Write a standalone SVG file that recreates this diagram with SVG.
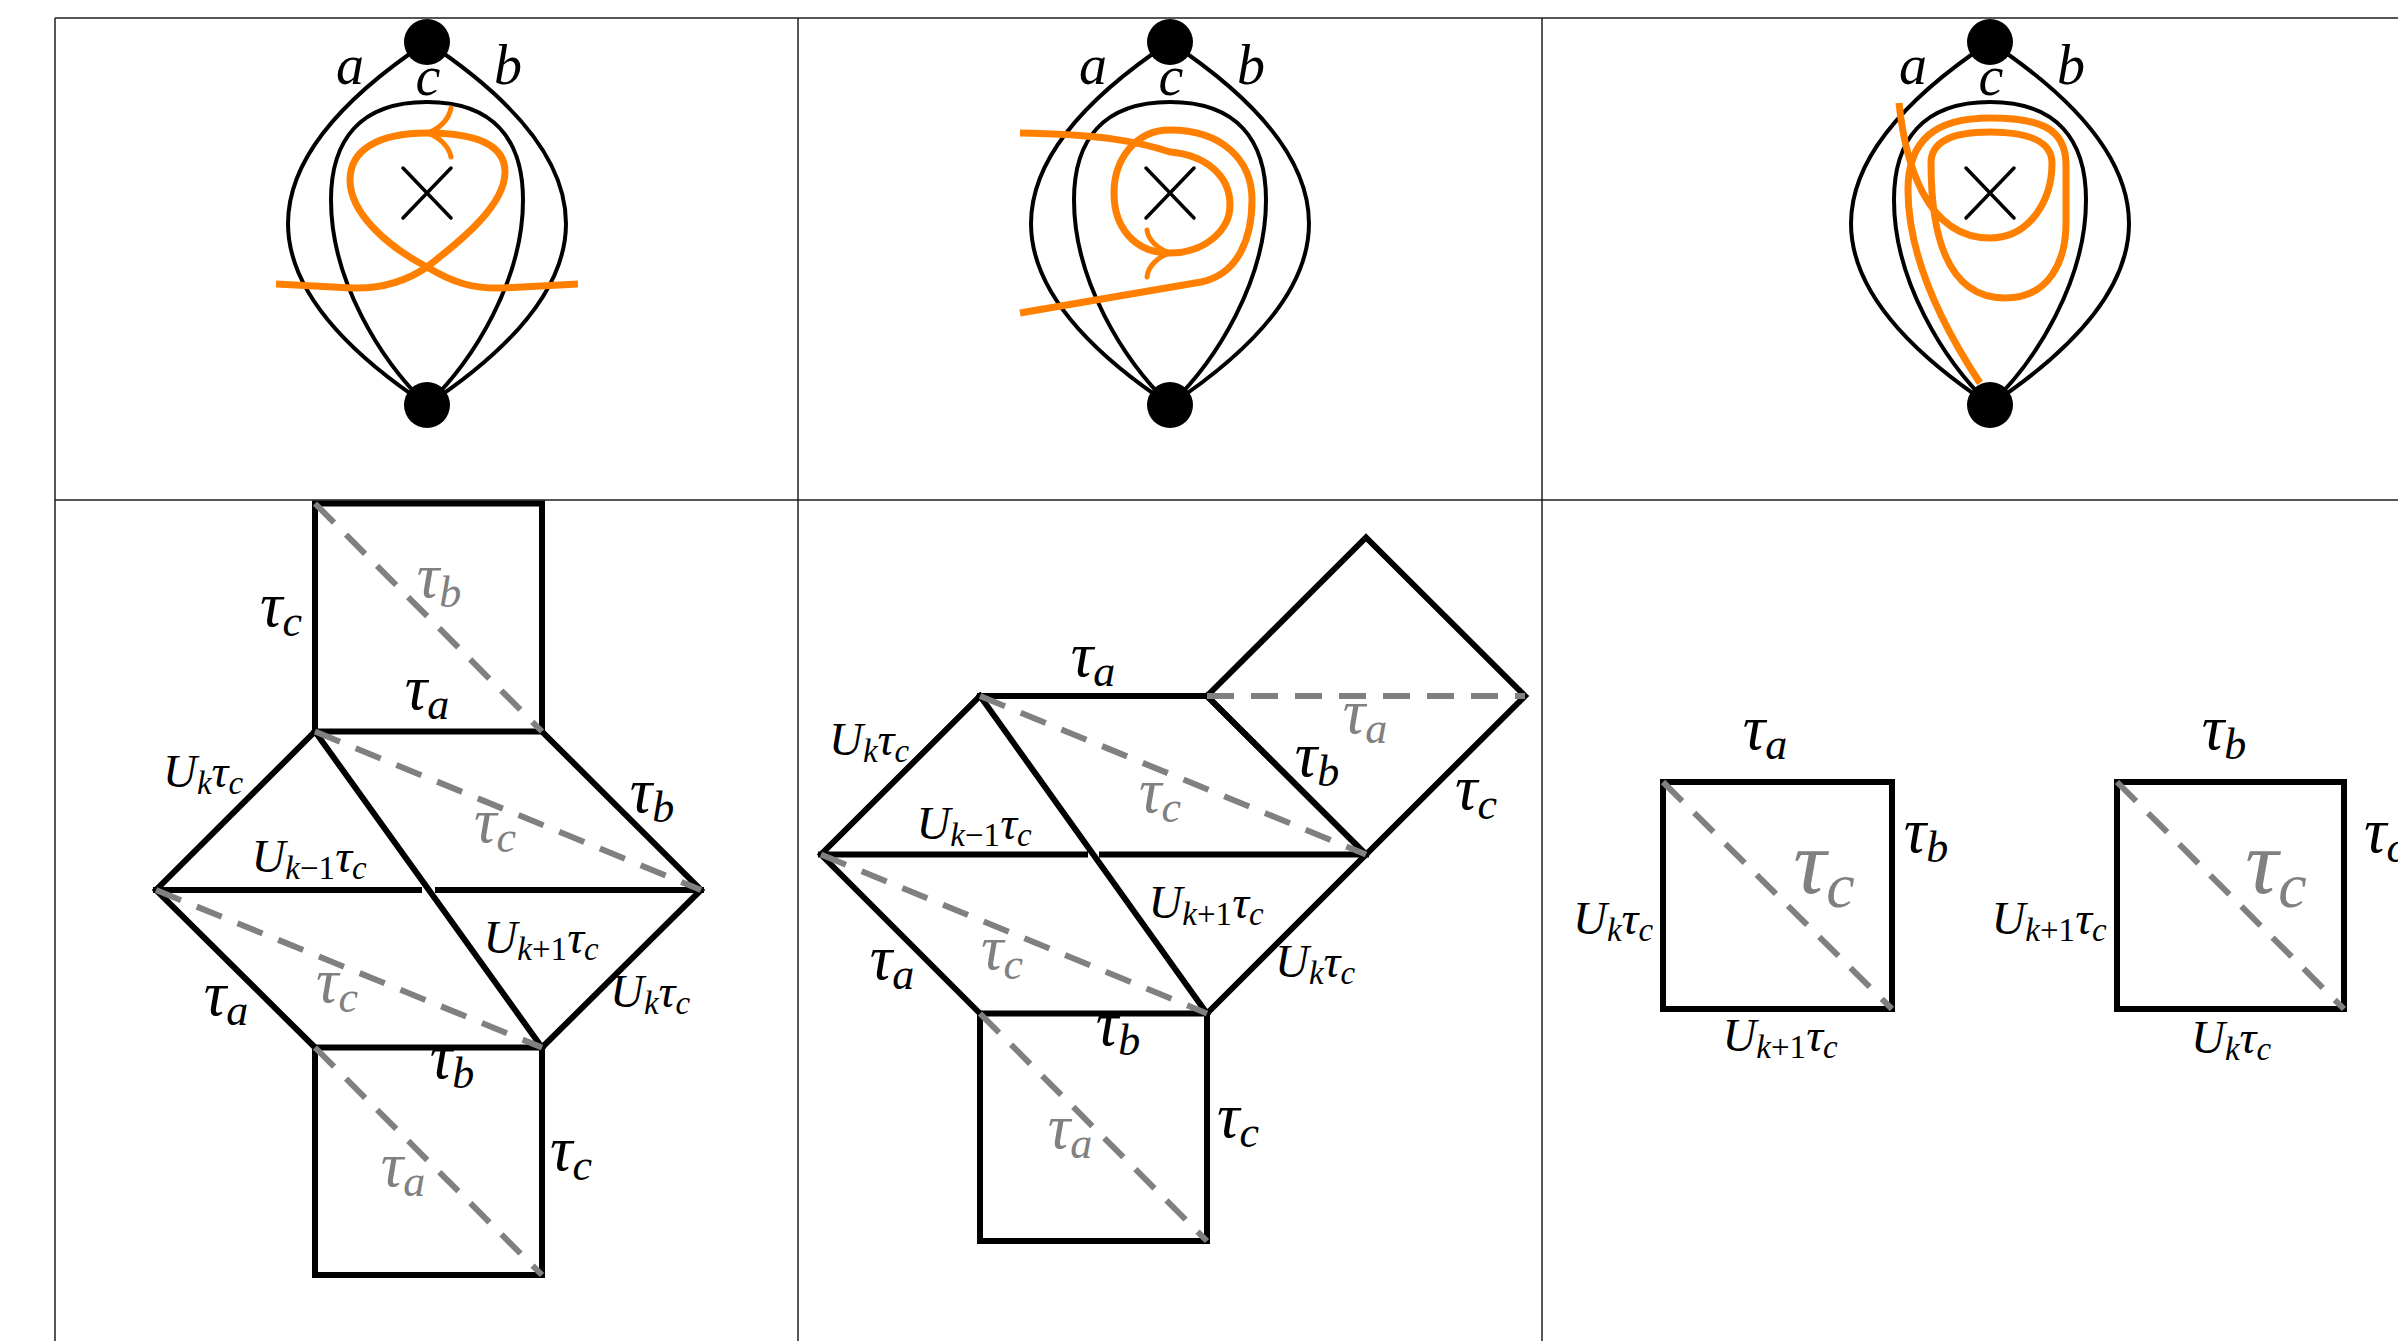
<svg xmlns="http://www.w3.org/2000/svg" width="2398" height="1341" viewBox="0 0 2398 1341">
<style>
.grid{fill:none;stroke:#1e1e1e;stroke-width:1.5}
.crv{fill:none;stroke:#000;stroke-width:4}
.xm{fill:none;stroke:#000;stroke-width:3.5;stroke-linecap:round}
.dot{fill:#000}
.orn{fill:none;stroke:#ff8000;stroke-width:7}
.arr{fill:none;stroke:#ff8000;stroke-width:5;stroke-linecap:round}
.edge{fill:none;stroke:#000;stroke-width:6;stroke-linejoin:miter;stroke-linecap:square}
.dash{fill:none;stroke:#808080;stroke-width:6;stroke-dasharray:27 17}
text{font-family:"Liberation Serif","Times New Roman",serif;font-style:italic;fill:#000;text-anchor:middle}
.lbl{font-size:56px}
.big{font-size:63px}
.sb{font-size:44px}
.sm{font-size:47px}
.ss{font-size:33px}
.huge{font-size:92px}
.hs{font-size:64px}
.rm{font-style:normal}
.gray{fill:#808080}
</style>

<g id="grid">
<line class="grid" x1="55" y1="18" x2="2398" y2="18"/>
<line class="grid" x1="55" y1="500" x2="2398" y2="500"/>
<line class="grid" x1="55" y1="18" x2="55" y2="1341"/>
<line class="grid" x1="798" y1="18" x2="798" y2="1341"/>
<line class="grid" x1="1542" y1="18" x2="1542" y2="1341"/>
</g>

<!-- Top row -->
<g id="top1">
<g id="lens1">
<path class="crv" d="M427,42 C241.7,165 241.7,282 427,405"/>
<path class="crv" d="M427,42 C612.3,165 612.3,282 427,405"/>
<path class="crv" d="M427,405 C380,360 331,280 331,200 C331,140 360,102 427,102 C494,102 523,140 523,200 C523,280 474,360 427,405"/>
<circle class="dot" cx="427" cy="42" r="23"/>
<circle class="dot" cx="427" cy="405" r="23"/>
<path class="xm" d="M403,168 L451,218 M451,168 L403,218"/>
<text class="lbl" x="350" y="84">a</text>
<text class="lbl" x="428" y="95">c</text>
<text class="lbl" x="508" y="84">b</text>
</g>
<path class="orn" d="M276,284 L352,288 C382,289 405,282 427,267 C462,240 505,205 505,172 C505,145 478,133 427,133 C378,133 350,150 350,180 C350,212 385,245 427,267 C452,282 472,289 502,288 L578,284"/>
<path class="arr" d="M451,108 C449,120 438,130 427,133 C438,136 449,146 451,157"/>
</g>

<g id="top2">
<g id="lens2" transform="translate(743,0)">
<path class="crv" d="M427,42 C241.7,165 241.7,282 427,405"/>
<path class="crv" d="M427,42 C612.3,165 612.3,282 427,405"/>
<path class="crv" d="M427,405 C380,360 331,280 331,200 C331,140 360,102 427,102 C494,102 523,140 523,200 C523,280 474,360 427,405"/>
<circle class="dot" cx="427" cy="42" r="23"/>
<circle class="dot" cx="427" cy="405" r="23"/>
<path class="xm" d="M403,168 L451,218 M451,168 L403,218"/>
<text class="lbl" x="350" y="84">a</text>
<text class="lbl" x="428" y="95">c</text>
<text class="lbl" x="508" y="84">b</text>
</g>
<path class="orn" d="M1020,313 L1201,282 C1240,274 1252,235 1252,200 C1252,160 1222,130 1170,130 C1135,130 1114,160 1114,193 C1114,228 1135,253 1170,253 C1205,253 1230,230 1230,205 C1230,175 1205,155 1170,152 C1140,142 1100,134 1020,133"/>
<path class="arr" d="M1147,230 C1148,240 1158,249 1170,253 C1158,257 1148,266 1147,277"/>
</g>

<g id="top3">
<g id="lens3" transform="translate(1563,0)">
<path class="crv" d="M427,42 C241.7,165 241.7,282 427,405"/>
<path class="crv" d="M427,42 C612.3,165 612.3,282 427,405"/>
<path class="crv" d="M427,405 C380,360 331,280 331,200 C331,140 360,102 427,102 C494,102 523,140 523,200 C523,280 474,360 427,405"/>
<circle class="dot" cx="427" cy="42" r="23"/>
<circle class="dot" cx="427" cy="405" r="23"/>
<path class="xm" d="M403,168 L451,218 M451,168 L403,218"/>
<text class="lbl" x="350" y="84">a</text>
<text class="lbl" x="428" y="95">c</text>
<text class="lbl" x="508" y="84">b</text>
</g>
<path class="orn" d="M1899,103 C1905,160 1925,238 1990,238 C2030,238 2052,200 2052,163 C2052,140 2025,132 1990,132 C1955,132 1931,140 1931,163 C1931,230 1945,298 2005,298 C2050,298 2066,260 2066,223 L2066,165 C2066,128 2040,118 1990,118 C1935,118 1908,140 1908,190 C1908,260 1945,330 1980,383"/>
</g>

<!-- Bottom row cell 1 -->
<g id="bot1">
<polygon class="edge" points="315,503.5 542,503.5 542,731.5 315,731.5"/>
<path class="edge" d="M315,731.5 L156,890 L315,1047.5 M542,731.5 L701,890 L542,1047.5 M156,890 L419,890 M438,890 L701,890 M315,731.5 L542,1047.5"/>
<polygon class="edge" points="315,1047.5 542,1047.5 542,1275 315,1275"/>
<path class="dash" d="M315,503.5 L542,731.5"/>
<path class="dash" d="M315,731.5 L701,890"/>
<path class="dash" d="M156,890 L542,1047.5"/>
<path class="dash" d="M315,1047.5 L542,1275"/>
<text class="big" x="281" y="626">τ<tspan class="sb" dy="10">c</tspan></text>
<text class="big gray" x="439" y="597">τ<tspan class="sb" dy="10">b</tspan></text>
<text class="big" x="427" y="709">τ<tspan class="sb" dy="10">a</tspan></text>
<text class="big" x="652" y="812">τ<tspan class="sb" dy="10">b</tspan></text>
<text class="big gray" x="495" y="842">τ<tspan class="sb" dy="10">c</tspan></text>
<text class="big gray" x="337" y="1002">τ<tspan class="sb" dy="10">c</tspan></text>
<text class="big" x="226" y="1015">τ<tspan class="sb" dy="10">a</tspan></text>
<text class="big" x="452" y="1078">τ<tspan class="sb" dy="10">b</tspan></text>
<text class="big" x="571" y="1170">τ<tspan class="sb" dy="10">c</tspan></text>
<text class="big gray" x="403" y="1186">τ<tspan class="sb" dy="10">a</tspan></text>
<text class="sm" x="203" y="787">U<tspan class="ss" dy="7">k</tspan><tspan dy="-7">τ</tspan><tspan class="ss" dy="7">c</tspan></text>
<text class="sm" x="309" y="872">U<tspan class="ss" dy="7">k<tspan class="rm">−1</tspan></tspan><tspan dy="-7">τ</tspan><tspan class="ss" dy="7">c</tspan></text>
<text class="sm" x="541" y="953">U<tspan class="ss" dy="7">k<tspan class="rm">+1</tspan></tspan><tspan dy="-7">τ</tspan><tspan class="ss" dy="7">c</tspan></text>
<text class="sm" x="650" y="1007">U<tspan class="ss" dy="7">k</tspan><tspan dy="-7">τ</tspan><tspan class="ss" dy="7">c</tspan></text>
</g>

<!-- Bottom row cell 2 -->
<g id="bot2">
<path class="edge" d="M980,696 L1207,696 M980,696 L821,854.5 L980,1013.5 M1207,696 L1366,854.5 L1207,1013.5 M821,854.5 L1085,854.5 M1102,854.5 L1366,854.5 M980,696 L1207,1013.5"/>
<polygon class="edge" points="1207,696 1366,537.5 1525,696 1366,854.5"/>
<polygon class="edge" points="980,1013.5 1207,1013.5 1207,1241 980,1241"/>
<path class="dash" d="M1207,696 L1525,696"/>
<path class="dash" d="M980,696 L1366,854.5"/>
<path class="dash" d="M821,854.5 L1207,1013.5"/>
<path class="dash" d="M980,1013.5 L1207,1241"/>
<text class="big" x="1093" y="676">τ<tspan class="sb" dy="10">a</tspan></text>
<text class="big gray" x="1365" y="733">τ<tspan class="sb" dy="10">a</tspan></text>
<text class="big" x="1317" y="776">τ<tspan class="sb" dy="10">b</tspan></text>
<text class="big" x="1476" y="809">τ<tspan class="sb" dy="10">c</tspan></text>
<text class="big gray" x="1160" y="812">τ<tspan class="sb" dy="10">c</tspan></text>
<text class="big gray" x="1002" y="969">τ<tspan class="sb" dy="10">c</tspan></text>
<text class="big" x="892" y="979">τ<tspan class="sb" dy="10">a</tspan></text>
<text class="big" x="1118" y="1045">τ<tspan class="sb" dy="10">b</tspan></text>
<text class="big" x="1238" y="1137">τ<tspan class="sb" dy="10">c</tspan></text>
<text class="big gray" x="1070" y="1148">τ<tspan class="sb" dy="10">a</tspan></text>
<text class="sm" x="869" y="755">U<tspan class="ss" dy="7">k</tspan><tspan dy="-7">τ</tspan><tspan class="ss" dy="7">c</tspan></text>
<text class="sm" x="974" y="839">U<tspan class="ss" dy="7">k<tspan class="rm">−1</tspan></tspan><tspan dy="-7">τ</tspan><tspan class="ss" dy="7">c</tspan></text>
<text class="sm" x="1206" y="918">U<tspan class="ss" dy="7">k<tspan class="rm">+1</tspan></tspan><tspan dy="-7">τ</tspan><tspan class="ss" dy="7">c</tspan></text>
<text class="sm" x="1315" y="977">U<tspan class="ss" dy="7">k</tspan><tspan dy="-7">τ</tspan><tspan class="ss" dy="7">c</tspan></text>
</g>

<!-- Bottom row cell 3 -->
<g id="bot3a">
<polygon class="edge" points="1663,782 1892,782 1892,1009 1663,1009"/>
<path class="dash" d="M1663,782 L1892,1009"/>
<text class="big" x="1765" y="749">τ<tspan class="sb" dy="10">a</tspan></text>
<text class="big" x="1926" y="852">τ<tspan class="sb" dy="10">b</tspan></text>
<text class="huge gray" x="1824" y="893">τ<tspan class="hs" dy="14">c</tspan></text>
<text class="sm" x="1613" y="934">U<tspan class="ss" dy="7">k</tspan><tspan dy="-7">τ</tspan><tspan class="ss" dy="7">c</tspan></text>
<text class="sm" x="1780" y="1051">U<tspan class="ss" dy="7">k<tspan class="rm">+1</tspan></tspan><tspan dy="-7">τ</tspan><tspan class="ss" dy="7">c</tspan></text>
</g>
<g id="bot3b">
<polygon class="edge" points="2117,782 2344,782 2344,1009 2117,1009"/>
<path class="dash" d="M2117,782 L2344,1009"/>
<text class="big" x="2224" y="749">τ<tspan class="sb" dy="10">b</tspan></text>
<text class="big" x="2385" y="852">τ<tspan class="sb" dy="10">c</tspan></text>
<text class="huge gray" x="2276" y="893">τ<tspan class="hs" dy="14">c</tspan></text>
<text class="sm" x="2049" y="934">U<tspan class="ss" dy="7">k<tspan class="rm">+1</tspan></tspan><tspan dy="-7">τ</tspan><tspan class="ss" dy="7">c</tspan></text>
<text class="sm" x="2231" y="1053">U<tspan class="ss" dy="7">k</tspan><tspan dy="-7">τ</tspan><tspan class="ss" dy="7">c</tspan></text>
</g>
</svg>
